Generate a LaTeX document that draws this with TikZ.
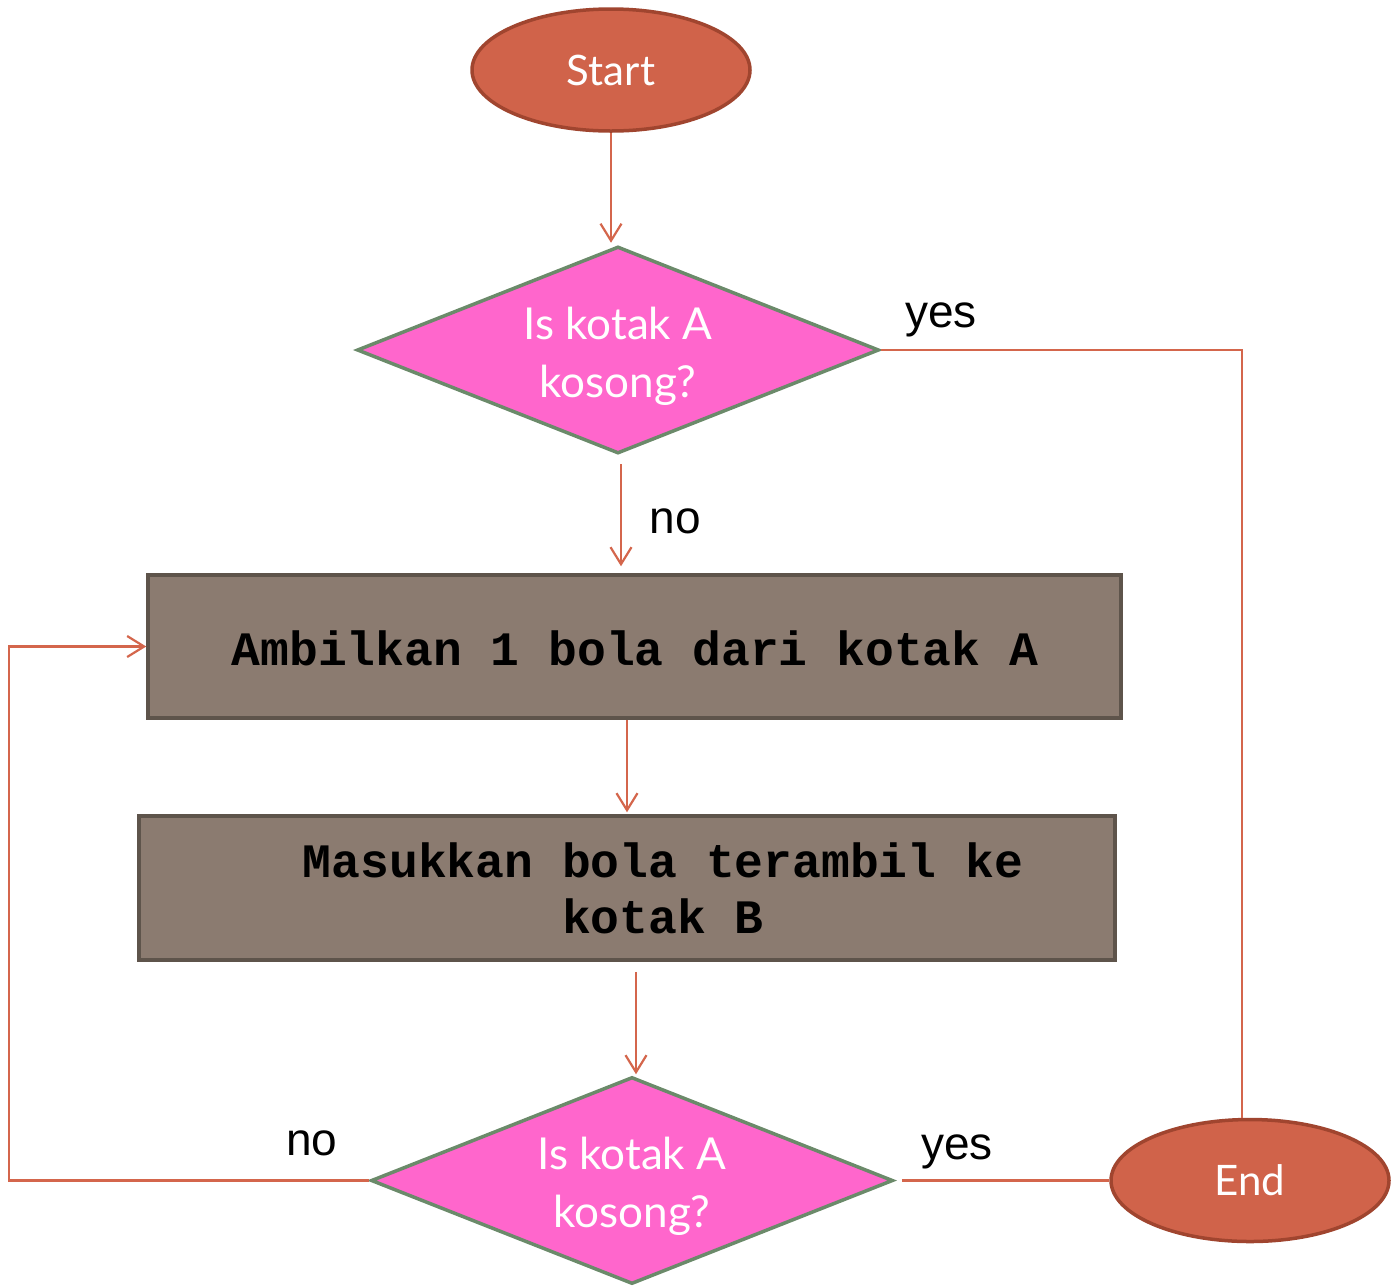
\documentclass[tikz,border=0pt]{standalone}
\usepackage{fontspec}
\setmainfont{Lato}
\newfontfamily\labfont{Liberation Sans}
\newfontfamily\boxfont{Liberation Mono}
\usetikzlibrary{shapes.geometric,arrows.meta,calc}
\definecolor{ovalfill}{HTML}{D0634A}
\definecolor{ovaldraw}{HTML}{A0452F}
\definecolor{dfill}{HTML}{FF66CC}
\definecolor{ddraw}{HTML}{6B8A6A}
\definecolor{bfill}{HTML}{8B7B70}
\definecolor{bdraw}{HTML}{5E544B}
\definecolor{conn}{HTML}{D4664C}
\tikzset{
  oval/.style={ellipse, fill=ovalfill, draw=ovaldraw, line width=1.75pt, minimum width=139pt, minimum height=61pt, inner sep=0pt, text=white, font=\fontsize{21}{25}\selectfont},
  decision/.style={diamond, fill=dfill, draw=ddraw, line width=1.75pt, minimum width=261pt, minimum height=103.5pt, inner sep=0pt},
  dtext/.style={text=white, align=center, inner sep=0pt, font=\fontsize{22}{29}\selectfont},
  procbox/.style={rectangle, fill=bfill, draw=bdraw, line width=1.75pt, inner sep=0pt},
  boxtext/.style={align=center, font=\boxfont\bfseries\fontsize{24}{28}\selectfont, inner sep=0pt},
  lab/.style={font=\labfont\fontsize{23}{27}\selectfont, inner sep=0pt},
  connector/.style={draw=conn, line width=1.1pt},
  arr/.style={connector, -{Straight Barb[length=8.5pt,width=10.5pt,line width=1.1pt]}}
}
\begin{document}
\begin{tikzpicture}[x=0.5pt,y=-0.5pt]
\useasboundingbox (0,0) rectangle (1391,1286);
\node[oval] (start) at (611,70) {Start};
\node[decision] (d1) at (618,350) {};
\node[dtext] (d1t) at (618,356) {Is kotak A\\kosong?};
\node[procbox, minimum width=486.5pt, minimum height=71.5pt] (b1) at (634.5,646.5) {};
\node[boxtext] (t1) at (635,648) {Ambilkan 1 bola dari kotak A};
\node[procbox, minimum width=488pt, minimum height=72pt] (b2) at (627,888) {};
\node[boxtext] (t2) at (663,888) {Masukkan bola terambil ke\\kotak B};
\node[decision] (d2) at (632,1180.5) {};
\node[dtext] (d2t) at (632,1186) {Is kotak A\\kosong?};
\node[oval] (end) at (1250,1180.5) {End};
\coordinate (cr) at (1242,350);
\coordinate (cl1) at (9,1180.5);
\coordinate (cl2) at (9,646.5);
\node[lab] (yes1) at (941,320) {yes};
\node[lab] (no1) at (675,521) {no};
\node[lab] (yes2) at (957,1152) {yes};
\node[lab] (no2) at (312,1143) {no};
\draw[arr, shorten >=1pt] (start.south) -- (start.south |- d1.north);
\draw[arr, shorten <=4.5pt, shorten >=3.5pt] ([xshift=1.5pt]d1.south) -- ([xshift=1.5pt]d1.south |- b1.north);
\draw[arr, shorten >=1pt] ([xshift=-3.75pt]b1.south) -- ([xshift=-3.75pt]b1.south |- b2.north);
\draw[arr, shorten <=5pt, shorten >=0.5pt] ([xshift=4.5pt]b2.south) -- ([xshift=4.5pt]b2.south |- d2.north);
\draw[connector] (d1.east) -- (cr) -- (cr |- end.north);
\draw[connector, shorten <=3.5pt] (d2.east) -- (end.west);
\draw[arr] (d2.west) -- (cl1) -- (cl2) -- (b1.west);
\end{tikzpicture}
\end{document}
